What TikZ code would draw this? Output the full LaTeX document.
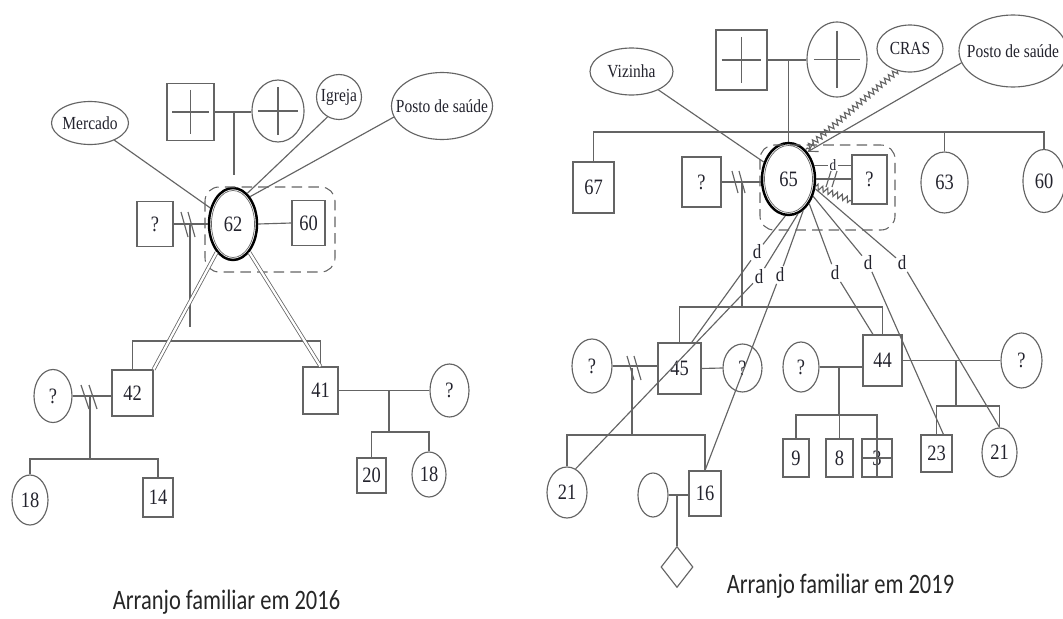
\documentclass[tikz,border=0pt]{standalone}
\usepackage{fontspec}
\setmainfont{Liberation Serif}
\newfontfamily\narrowserif[FakeStretch=0.84]{Liberation Serif}
\newfontfamily\captionsans[FakeStretch=0.8]{Carlito}
\usetikzlibrary{shapes.geometric,calc,decorations.pathmorphing,arrows.meta}
\definecolor{lc}{RGB}{100,100,100}
\definecolor{tc}{RGB}{35,35,45}
\newcommand\numfont{\narrowserif\fontsize{12.5}{14}\selectfont}
\newcommand\tiefont{\narrowserif\fontsize{10.5}{12}\selectfont}
\newcommand\dlabelfont{\narrowserif\fontsize{11.5}{13}\selectfont}
\newcommand\smalldlabelfont{\narrowserif\fontsize{9}{10}\selectfont}
\newcommand\capfont{\captionsans\fontsize{16}{19}\selectfont}
\newcommand\nowidth[1]{\makebox[0pt]{#1}}
% cross inside a node (deceased person); #2 = inset as a fraction of the size
\newcommand\crossin[2]{\draw[ln] ($(#1.west)!#2!(#1.east)$) -- ($(#1.east)!#2!(#1.west)$) ($(#1.north)!#2!(#1.south)$) -- ($(#1.south)!#2!(#1.north)$);}

\begin{document}
\begin{tikzpicture}[x=0.02cm,y=-0.02cm,
  ln/.style={draw=lc,line width=0.65pt},
  base/.style={ln,inner sep=0pt,text=tc},
  sq/.style 2 args={base,rectangle,minimum width=#1*0.02cm,minimum height=#2*0.02cm,font=\numfont},
  ci/.style 2 args={base,ellipse,minimum width=#1*0.02cm,minimum height=#2*0.02cm,font=\numfont},
  ego/.style 2 args={ci={#1}{#2},draw=black,line width=1.4pt},
  tie/.style 2 args={ci={#1}{#2},font=\tiefont},
  dl/.style={inner sep=0.8pt,font=\dlabelfont,text=tc},
  hh/.style={draw=lc,line width=0.6pt,dash pattern=on 6pt off 3.5pt,rounded corners=8pt},
  dbl/.style={draw=lc,line width=0.45pt,double=white,double distance=1.3pt},
  zz/.style={ln,decorate,decoration={zigzag,amplitude=1.6pt,segment length=3pt}},
  captxt/.style={font=\capfont,text=black!85,inner sep=0pt,anchor=base}
]
\useasboundingbox (0,0) rectangle (1063,619);
\fill[white] (0,0) rectangle (1063,619);
\clip (0,0) rectangle (1063,619);

% ---------------- 2016 ----------------
\node[tie={77}{43}] (merc) at (90,123) {\nowidth{Mercado}};
\node[sq={47}{57}] (fa1) at (190.5,112) {};
\node[ci={52}{62}] (mo1) at (278,111) {};
\node[tie={45}{45}] (igr) at (339,97) {\nowidth{Igreja}};
\node[tie={101}{67}] (pst1) at (442,106) {\nowidth{Posto de saúde}};
\node[ego={48}{72}] (e62) at (233,224) {62};
\node[sq={33}{45}] (s60) at (308.5,223) {60};
\node[sq={36}{45}] (q1) at (155,224) {?};
\node[sq={41}{46}] (s42) at (132.5,393) {42};
\node[sq={35}{47}] (s41) at (320.5,390.5) {41};
\node[ci={38}{53}] (q2) at (53,396) {?};
\node[ci={36}{50}] (c18a) at (30,500) {18};
\node[sq={30}{39}] (s14) at (158,497.5) {14};
\node[ci={39}{53}] (q3) at (449.5,390.5) {?};
\node[sq={29}{35}] (s20) at (371.5,475.5) {20};
\node[ci={34}{45}] (c18b) at (429,474.5) {18};
\crossin{fa1}{0.12}
\crossin{mo1}{0.12}
\draw[lc,line width=0.4pt] (e62.center) ellipse [x radius=21.5,y radius=33.5];

\draw[hh] (205,187) rectangle (335,272);

\draw[ln] (fa1.east) -- (fa1.east -| mo1.west);
\coordinate (p1) at (234,112);
\coordinate (p1e) at (234,175);
\draw[ln] (p1) -- (p1e);

\draw[ln] (q1.east) -- (e62.west);
\draw[ln] (181,212) -- (188,237) (188,212) -- (195,237);
\coordinate (m1) at (190,224);
\coordinate (m1e) at (190,327);
\draw[ln] (m1) -- (m1e);
\draw[ln] (e62.east) -- (s60.west);

\coordinate (sib1) at (226,341);
\draw[ln] (s42.north) |- (sib1) -| (s41.north);
\draw[dbl] (e62.240) -- (s42.north east);
\draw[dbl] (e62.300) -- (s41.north);

\draw[ln] (merc) -- (e62);
\draw[ln] (igr.240) -- (e62.65);
\draw[ln] (pst1.193) -- (e62.58);

\draw[ln] (q2.east) -- (q2.east -| s42.west);
\draw[ln] (81,385) -- (89,409) (89,385) -- (97,409);
\coordinate (m2) at (90,396);
\coordinate (sib2) at (90,459);
\draw[ln] (m2) -- (sib2);
\draw[ln] (c18a.north) |- (sib2) -| (s14.north);

\draw[ln] (s41.east) -- (s41.east -| q3.west);
\coordinate (m3) at (389,390.5);
\coordinate (sib3) at (389,432);
\draw[ln] (m3) -- (sib3);
\draw[ln] (s20.north) |- (sib3) -| (c18b.north);

\node[captxt] (cap1) at (226.5,609) {Arranjo familiar em 2016};

% ---------------- 2019 ----------------
\node[tie={83}{47}] (viz) at (631.5,71.5) {\nowidth{Vizinha}};
\node[sq={51}{60}] (fa2) at (741.5,60) {};
\node[ci={60}{75}] (mo2) at (837,59.5) {};
\node[tie={66}{47}] (cras) at (910,48.5) {\nowidth{CRAS}};
\node[tie={108}{72}] (pst2) at (1013,51) {\nowidth{Posto de saúde}};
\node[ego={53}{72}] (e65) at (788.5,179) {65};
\node[sq={41}{51}] (s67) at (593.5,187.5) {67};
\node[sq={39}{50}] (q4) at (701.5,182) {?};
\node[sq={35}{49}] (q5) at (869.5,179.5) {?};
\node[ci={47}{61}] (c63) at (944.5,182.5) {63};
\node[ci={42}{63}] (c60) at (1044,181) {60};
\crossin{fa2}{0.12}
\crossin{mo2}{0.12}
\draw[lc,line width=0.4pt] (e65.center) ellipse [x radius=24,y radius=33.5];

\draw[hh] (760,145) rectangle (895,230);

\draw[ln] (fa2.east) -- (fa2.east -| mo2.west);
\coordinate (p2) at (788.5,60);
\draw[ln] (p2) -- (e65.north);
\coordinate (sib4) at (788.5,132);
\draw[ln] (s67.north) |- (sib4) -| (c60.north);
\draw[ln] (c63.north) -- (c63.north |- sib4);

\draw[ln] (viz) -- (e65);
\draw[zz] (cras.240) -- (e65.60);
\draw[ln,-{Straight Barb[length=5pt,width=6pt]}] (pst2.193) -- (e65.55);

\draw[ln] (q4.east) -- (q4.east -| e65.west);
\draw[ln] (732,171) -- (738,193) (739,171) -- (745,193);
\draw[ln] (e65.28) -- node[dl,fill=white,font=\smalldlabelfont] (dsp) {d} (e65.28 -| q5.west);
\draw[ln] (e65.east) -- (e65.east -| q5.west);
\draw[ln] (826,187) -- (831,171) (832,187) -- (837,171);
\draw[zz] (e65.-15) -- (q5.230);

% children
\node[ci={40}{54}] (q6) at (592,366) {?};
\node[sq={43}{51}] (s45) at (679.5,368.5) {45};
\node[ci={39}{48}] (q7) at (742.5,368) {?};
\node[ci={36}{50}] (q8) at (801,367) {?};
\node[sq={39}{51}] (s44) at (882.5,360.5) {44};
\node[ci={41}{55}] (q9) at (1021.5,360.5) {?};

\coordinate (m4) at (742,182);
\coordinate (sib5) at (742,307);
\draw[ln] (m4) -- (sib5);
\draw[ln] (s45.north) |- (sib5) -| (s44.north);

% grandchildren
\node[ci={40}{51}] (c21a) at (567,492.5) {21};
\node[ci={30}{44}] (cx) at (653,495) {};
\node[sq={32}{45}] (s16) at (705,493.5) {16};
\node[base,diamond,minimum width=32*0.02cm,minimum height=41*0.02cm] (dmd) at (677,567) {};
\node[sq={26}{38}] (s9) at (796,458) {9};
\node[sq={27}{38}] (s8) at (839.5,458) {8};
\node[sq={30}{38}] (s3) at (877,458) {3};
\node[sq={31}{37}] (s23) at (936.5,453.5) {23};
\node[ci={35}{49}] (c21b) at (999.5,452.5) {21};
\crossin{s3}{0}

\draw[ln] (q6.east) -- (q6.east -| s45.west);
\draw[ln] (627,356) -- (634,380) (634,356) -- (641,380);
\coordinate (m6) at (632,368);
\coordinate (sib6) at (632,435);
\draw[ln] (m6) -- (sib6);
\draw[ln] (c21a.north) |- (sib6) -| (s16.north);
\draw[ln] (s45.east) -- (q7.west);

\draw[ln] (cx.east) -- (cx.east -| s16.west);
\coordinate (m10) at (677,495);
\draw[ln] (m10) -- (dmd.north);

\draw[ln] (q8.east) -- (q8.east -| s44.west);
\coordinate (m8) at (839,367);
\coordinate (sib8) at (839,415);
\draw[ln] (m8) -- (sib8);
\draw[ln] (s9.north) |- (sib8) -| (s3.north);
\draw[ln] (s8.north) -- (s8.north |- sib8);

\draw[ln] (s44.east) -- (q9.west);
\coordinate (m9) at (956,360.5);
\coordinate (sib9) at (956,406);
\draw[ln] (m9) -- (sib9);
\draw[ln] (s23.north) |- (sib9) -| (c21b.north);

% distant ties from 65
\node[dl] (da) at (757,252) {d};
\node[dl] (db) at (759,277) {d};
\node[dl] (dc) at (780,275) {d};
\node[dl] (dd) at (835,273) {d};
\node[dl] (de) at (868,263) {d};
\node[dl] (df) at (902,263) {d};
\draw[ln] (e65.265) -- (da) -- (s45.65);
\draw[ln] (e65.285) -- (db) -- (c21a.70);
\draw[ln] (e65.295) -- (dc) -- (s16.north);
\draw[ln] (e65.310) -- (dd) -- (s44.110);
\draw[ln] (e65.325) -- (de) -- (s23.70);
\draw[ln] (e65.340) -- (df) -- (c21b.north);

\node[captxt] (cap2) at (840.5,593) {Arranjo familiar em 2019};
\end{tikzpicture}
\end{document}
